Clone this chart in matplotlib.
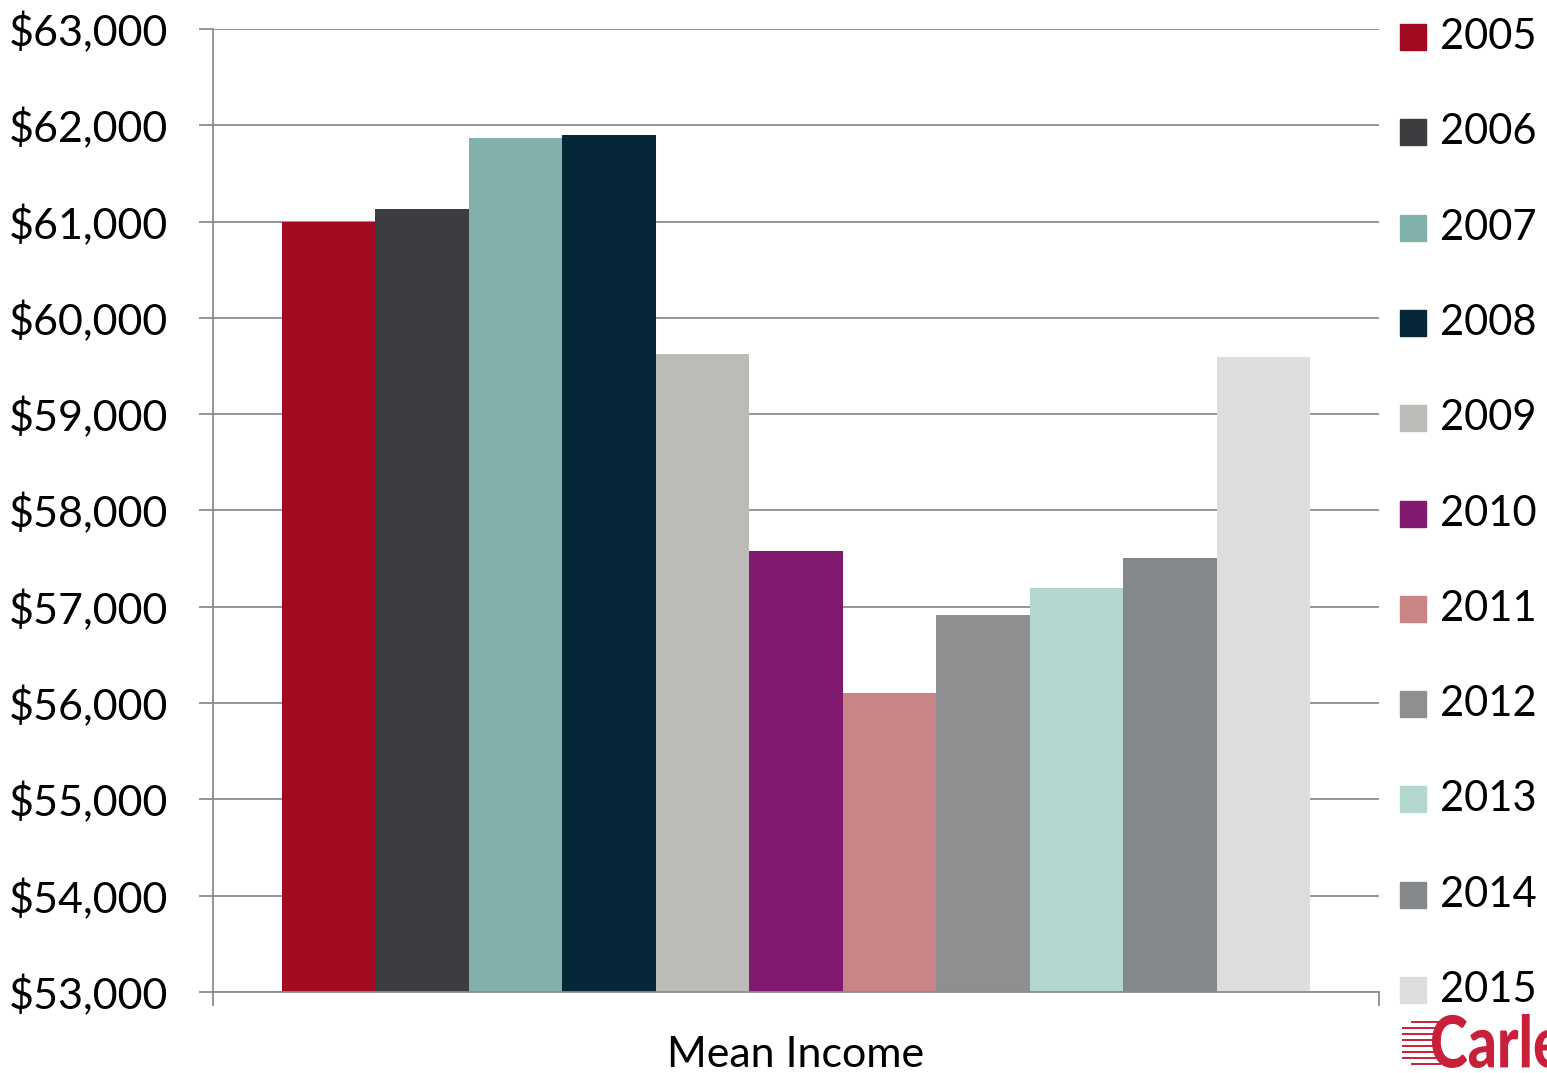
import matplotlib.pyplot as plt
from matplotlib.patches import Rectangle, PathPatch
from matplotlib.lines import Line2D
from matplotlib.ticker import FuncFormatter
from matplotlib.textpath import TextPath
from matplotlib.font_manager import FontProperties
from matplotlib.transforms import Affine2D

years = ['2005', '2006', '2007', '2008', '2009', '2010',
         '2011', '2012', '2013', '2014', '2015']
income = [61000, 61130, 61870, 61900, 59620, 57580,
          56100, 56920, 57200, 57510, 59590]
colors = ['#a20a22', '#3d3c41', '#80b1aa', '#052738', '#bcbbb7', '#81196f',
          '#c98485', '#8f8f91', '#b3d7cf', '#85888b', '#dedddb']
category = 'Mean Income'

plt.rcParams['font.family'] = ['Lato', 'DejaVu Sans']

W, H = 1547, 1073
fig = plt.figure(figsize=(W/100, H/100), dpi=100)
ax = fig.add_axes([213/W, 81/H, 1166/W, 963/H])

x = list(range(len(years)))
ax.bar(x, income, width=1.0, color=colors, zorder=3)

ax.set_ylim(53000, 63000)
ax.set_xlim(-1.238, len(years) - 1 + 1.238)
ax.set_yticks(range(53000, 63001, 1000))
ax.yaxis.set_major_formatter(FuncFormatter(lambda v, p: '${:,.0f}'.format(v)))
ax.grid(axis='y', color='#8c8c8c', linewidth=1.3, zorder=0)

for s in ['top', 'right']:
    ax.spines[s].set_visible(False)
for s in ['left', 'bottom']:
    ax.spines[s].set_color('#8c8c8c')
    ax.spines[s].set_linewidth(1.3)

ax.tick_params(axis='y', length=10, width=1.3, color='#8c8c8c',
               labelsize=31, pad=22)

# category boundary ticks and centred label
ax.set_xticks([(len(years) - 1) / 2])
ax.set_xticklabels([category], fontsize=31)
ax.tick_params(axis='x', which='major', length=0, pad=32)
ax.set_xticks(list(ax.get_xlim()), minor=True)
ax.tick_params(axis='x', which='minor', length=10, width=1.3, color='#8c8c8c',
               direction='out')
ax.spines['bottom'].set_zorder(4)

# right-side legend
for i, (yr, c) in enumerate(zip(years, colors)):
    yc = 37 + i * 95.3
    fig.add_artist(Rectangle((1400/W, 1 - (yc + 13)/H), 26/W, 26/H,
                             transform=fig.transFigure, color=c))
    fig.text(1440/W, 1 - yc/H, yr, fontsize=30, va='center', ha='left')

# logo, squeezed bold lettering with speed lines
red = '#c8203a'
tp = TextPath((0, 0), 'Carle', size=100,
              prop=FontProperties(family='Lato', weight='black'))
bb = tp.get_extents()
to_px = (Affine2D().translate(-bb.x0, -bb.y0)
         .scale(130 / bb.width, 54 / bb.height)
         .translate(1432, H - 1068))
logo = to_px.transform_path(tp)
fig.add_artist(PathPatch(logo, transform=Affine2D().scale(1/W, 1/H) + fig.transFigure,
                         color=red, linewidth=0))
for k, yl in enumerate(range(1022, 1066, 6)):
    x0 = 1412 if k in (0, 7) else 1403
    fig.add_artist(Line2D([x0/W, 1440/W], [1 - yl/H, 1 - yl/H],
                          transform=fig.transFigure, color=red, linewidth=1.4))

fig.savefig('out.png', dpi=100)
